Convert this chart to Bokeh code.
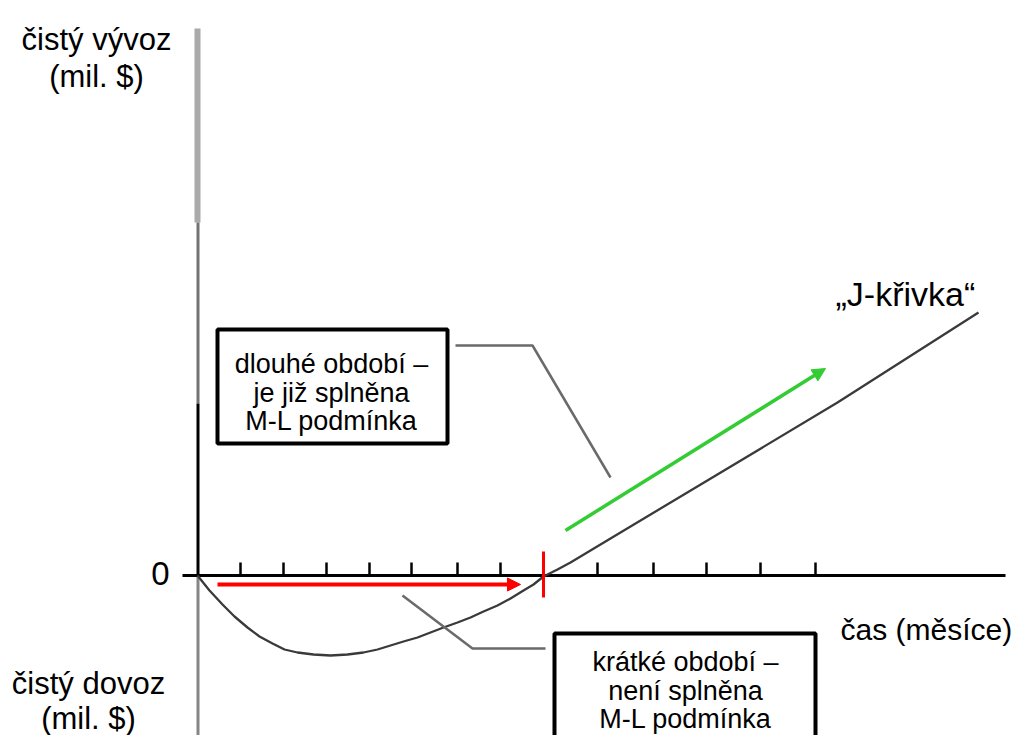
from bokeh.plotting import figure
from bokeh.models import Range1d, Arrow, NormalHead, ColumnDataSource
from bokeh.core.properties import value
from bokeh.embed import file_html
from bokeh.resources import INLINE

# --- data (x: time axis units, y: net exports; origin at the axis crossing) ---
j_x = [0, 12, 25, 37, 50, 62, 75, 87, 100, 116, 133, 150, 166, 180, 193, 206,
       220, 233, 246, 260, 273, 286, 300, 313, 326, 336, 346, 360, 373, 393,
       413, 640, 781]
j_y = [0, -15, -29, -41, -52, -61, -68, -74, -77, -79, -80, -79, -77, -74, -70, -66,
       -62, -57, -52, -47, -42, -36, -30, -23, -15, -9, -1, 6, 13, 25,
       37, 173, 263]

tick_x = [43, 86, 129, 172, 214, 260, 303, 400, 456, 509, 563, 618]
break_even_x = 346          # month where the curve crosses zero

short_run = dict(x0=20, x1=323, y=-9)        # red arrow along the axis
long_run = dict(x0=368, y0=45, x1=628, y1=207)  # green arrow along the rising branch

box_long = dict(left=20, right=250, top=246, bottom=132)
box_short = dict(left=357, right=618, top=-58, bottom=-175)
lead_long_x = [258, 335, 413]
lead_long_y = [230, 230, 98]
lead_short_x = [205, 275, 348]
lead_short_y = [-20, -73, -73]

text_long = ["dlouhé období –", "je již splněna", "M-L podmínka"]
text_short = ["krátké období –", "není splněna", "M-L podmínka"]

FONT = "Liberation Sans"

p = figure(width=1020, height=735, output_backend="svg", toolbar_location=None,
           x_range=Range1d(-197, 823), y_range=Range1d(-160, 575),
           x_axis_location=None, y_axis_location=None, min_border=0)
p.grid.visible = False
p.outline_line_color = None
p.background_fill_color = "white"
p.border_fill_color = "white"

# vertical axis, drawn in sections
p.line([0, 0], [547, 353], line_color="#aaaaaa", line_width=6)
p.line([0.5, 0.5], [353, 172], line_color="#737373", line_width=3)
p.line([0.5, 0.5], [172, 0], line_color="black", line_width=3)
p.line([0.5, 0.5], [0, -165], line_color="#858585", line_width=3)

# horizontal axis and ticks
p.line([-15, 808], [0, 0], line_color="black", line_width=3)
p.segment(x0=tick_x, y0=[0] * len(tick_x), x1=tick_x, y1=[13] * len(tick_x),
          line_color="black", line_width=2.5)

# J-curve
p.line(j_x, j_y, line_color="#3a3a3a", line_width=2.3, line_join="round")

# break-even marker
p.segment(x0=[break_even_x], y0=[24], x1=[break_even_x], y1=[-22],
          line_color="#ff0000", line_width=3)

# arrows
p.add_layout(Arrow(x_start=short_run["x0"], y_start=short_run["y"],
                   x_end=short_run["x1"], y_end=short_run["y"],
                   line_color="#ff0000", line_width=4,
                   end=NormalHead(size=13, fill_color="#ff0000", line_color="#ff0000")))
p.add_layout(Arrow(x_start=long_run["x0"], y_start=long_run["y0"],
                   x_end=long_run["x1"], y_end=long_run["y1"],
                   line_color="#33cc33", line_width=3.5,
                   end=NormalHead(size=13, fill_color="#33cc33", line_color="#33cc33")))

# leader lines
p.line(lead_long_x, lead_long_y, line_color="#6a6a6a", line_width=2.5)
p.line(lead_short_x, lead_short_y, line_color="#6a6a6a", line_width=2.5)

# annotation boxes
for b in (box_long, box_short):
    p.quad(left=b["left"], right=b["right"], top=b["top"], bottom=b["bottom"],
           fill_color="white", line_color="black", line_width=4)

box_src = ColumnDataSource(dict(
    x=[134] * 3 + [488] * 3,
    y=[212, 183, 155, -86, -115, -143],
    t=text_long + text_short))
p.text(x="x", y="y", text="t", source=box_src, text_font=value(FONT),
       text_font_size="27px", text_align="center", text_baseline="alphabetic",
       text_color="black")

# axis labels
lab_src = ColumnDataSource(dict(
    x=[-101, -101, -109, -109],
    y=[536, 499, -108, -143],
    t=["čistý vývoz", "(mil. $)", "čistý dovoz", "(mil. $)"]))
p.text(x="x", y="y", text="t", source=lab_src, text_font=value(FONT),
       text_font_size="31px", text_align="center", text_baseline="alphabetic",
       text_color="black")

p.text(x=[-28], y=[2], text=["0"], text_font=value(FONT), text_font_size="33px",
       text_align="right", text_baseline="alphabetic", text_color="black")
p.text(x=[643], y=[-54], text=["čas (měsíce)"], text_font=value(FONT),
       text_font_size="30px", text_align="left", text_baseline="alphabetic",
       text_color="black")
p.text(x=[638], y=[282], text=["„J-křivka“"], text_font=value(FONT),
       text_font_size="34px", text_align="left", text_baseline="alphabetic",
       text_color="black")

open("out.html", "w").write(file_html(p, INLINE))
